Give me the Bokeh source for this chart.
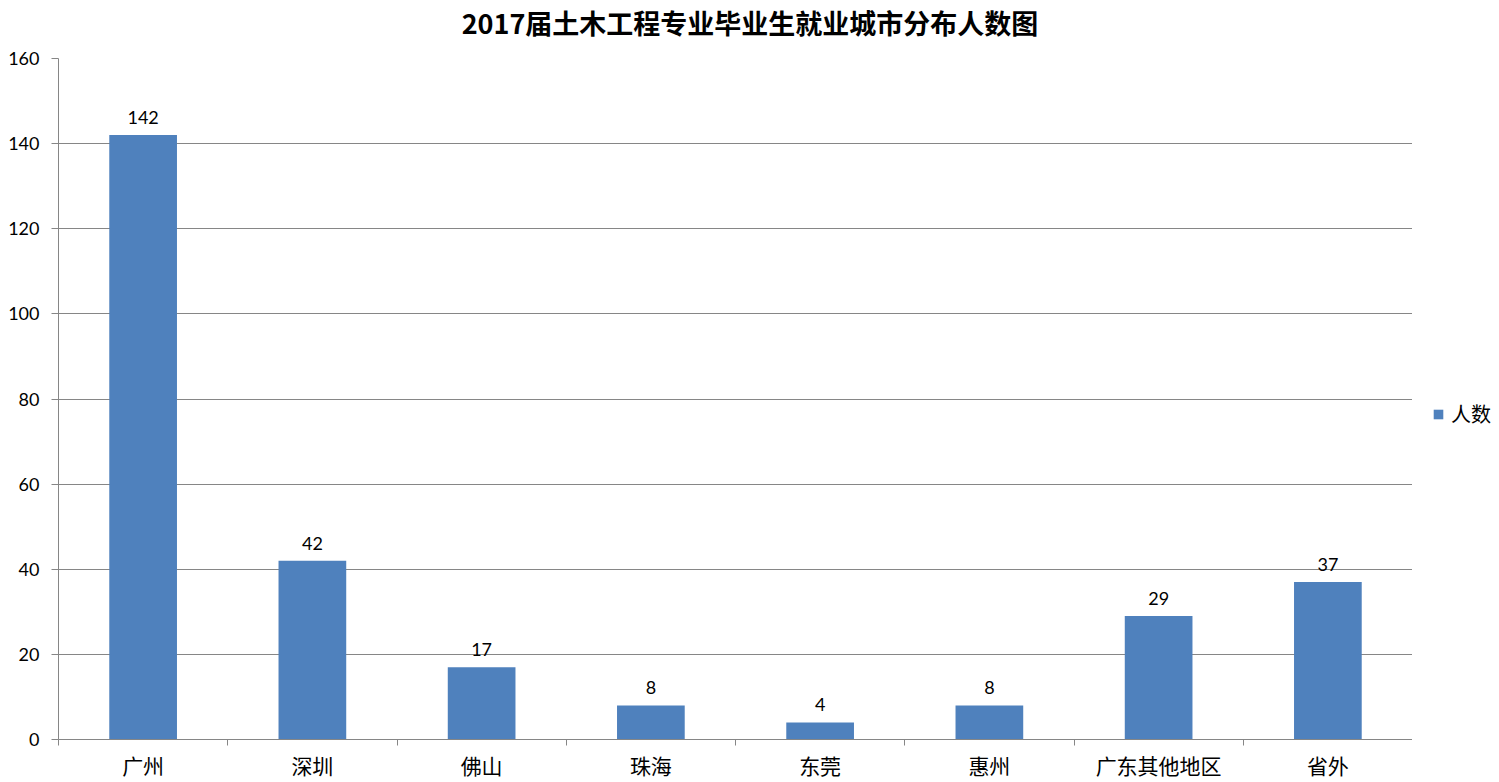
from bokeh.plotting import figure
from bokeh.layouts import row, column
from bokeh.models import ColumnDataSource, FixedTicker, Legend, LegendItem, Range1d
from bokeh.core.properties import value
from bokeh.embed import file_html
from bokeh.resources import INLINE

title_text = "2017届土木工程专业毕业生就业城市分布人数图"
categories = ["广州", "深圳", "佛山", "珠海", "东莞", "惠州", "广东其他地区", "省外"]
counts = [142, 42, 17, 8, 4, 8, 29, 37]
series_name = "人数"
y_ticks = [0, 20, 40, 60, 80, 100, 120, 140, 160]

BAR = "#4F81BD"
GRAY = "#868686"
CJK = "Noto Sans CJK SC"
NUM = "Lato"

xs = list(range(1, len(categories) + 1))
src = ColumnDataSource(dict(x=xs, y=counts, lbl=[str(c) for c in counts]))
x_lo, x_hi = 0.5, len(categories) + 0.5
y_lo, y_hi = y_ticks[0], y_ticks[-1]

W, H = 1499, 782
TITLE_H = 46
LEG_W = 87


def bare(fig):
    fig.outline_line_color = None
    fig.grid.grid_line_color = None
    fig.background_fill_color = "white"
    fig.border_fill_color = "white"
    return fig


# title strip
tt = bare(figure(width=W, height=TITLE_H, output_backend="svg", toolbar_location=None,
                 x_axis_location=None, y_axis_location=None, min_border=0,
                 x_range=Range1d(0, W), y_range=Range1d(0, TITLE_H)))
tt.text(x=[W / 2], y=[TITLE_H - 22], text=[title_text], text_align="center", text_baseline="middle",
        text_font=value(CJK), text_font_size="27px", text_font_style="bold", text_color="#000000")

# main chart
p = figure(width=W - LEG_W, height=H - TITLE_H, output_backend="svg", toolbar_location=None,
           x_range=Range1d(x_lo, x_hi), y_range=Range1d(y_lo, y_hi),
           min_border_left=58, min_border_right=0, min_border_top=12, min_border_bottom=42)
p.outline_line_color = None
p.background_fill_color = "white"
p.border_fill_color = "white"

r = p.vbar(x="x", top="y", width=0.4, source=src, fill_color=BAR, line_color=None)
p.text(x="x", y="y", text="lbl", source=src, text_align="center", text_baseline="bottom",
       y_offset=-11, text_font=value(NUM), text_font_size="18px", text_color="#000000")

# y axis
p.yaxis.ticker = FixedTicker(ticks=y_ticks)
p.yaxis.axis_line_color = GRAY
p.yaxis.major_tick_line_color = GRAY
p.yaxis.major_tick_in = 0
p.yaxis.major_tick_out = 7
p.yaxis.minor_tick_line_color = None
p.yaxis.major_label_text_font = NUM
p.yaxis.major_label_text_font_size = "18px"
p.yaxis.major_label_text_color = "#000000"
p.yaxis.major_label_standoff = 12

# x axis: labels at centers, ticks between categories
bounds = [i + 0.5 for i in range(0, len(categories) + 1)]
p.xaxis.ticker = FixedTicker(ticks=xs, minor_ticks=bounds)
p.xaxis.major_label_overrides = {x: c for x, c in zip(xs, categories)}
p.xaxis.axis_line_color = GRAY
p.xaxis.major_tick_line_color = None
p.xaxis.major_tick_in = 0
p.xaxis.major_tick_out = 0
p.xaxis.minor_tick_line_color = GRAY
p.xaxis.minor_tick_in = 0
p.xaxis.minor_tick_out = 6
p.xaxis.major_label_text_font = CJK
p.xaxis.major_label_text_font_size = "21px"
p.xaxis.major_label_text_color = "#000000"
p.xaxis.major_label_standoff = 4

p.xgrid.grid_line_color = None
p.ygrid.grid_line_color = GRAY
p.ygrid.grid_line_width = 1

# legend panel to the right of the plot area
lg = bare(figure(width=LEG_W, height=H - TITLE_H, output_backend="svg", toolbar_location=None,
                 x_axis_location=None, y_axis_location=None, min_border=0,
                 x_range=Range1d(0, 1), y_range=Range1d(0, 1)))
nan = float("nan")
proxy = lg.vbar(x=[nan], top=[nan], width=0.4, fill_color=BAR, line_color=None)
legend = Legend(items=[LegendItem(label=series_name, renderers=[proxy], index=0)], location=(20, 311),
                border_line_color=None, background_fill_alpha=0,
                label_text_font=CJK, label_text_font_size="20px", label_text_color="#000000",
                glyph_width=12, glyph_height=12, padding=0, margin=0, label_standoff=7,
                label_height=24)
lg.add_layout(legend)

layout = column(tt, row(p, lg))
open("out.html", "w").write(file_html(layout, INLINE))
